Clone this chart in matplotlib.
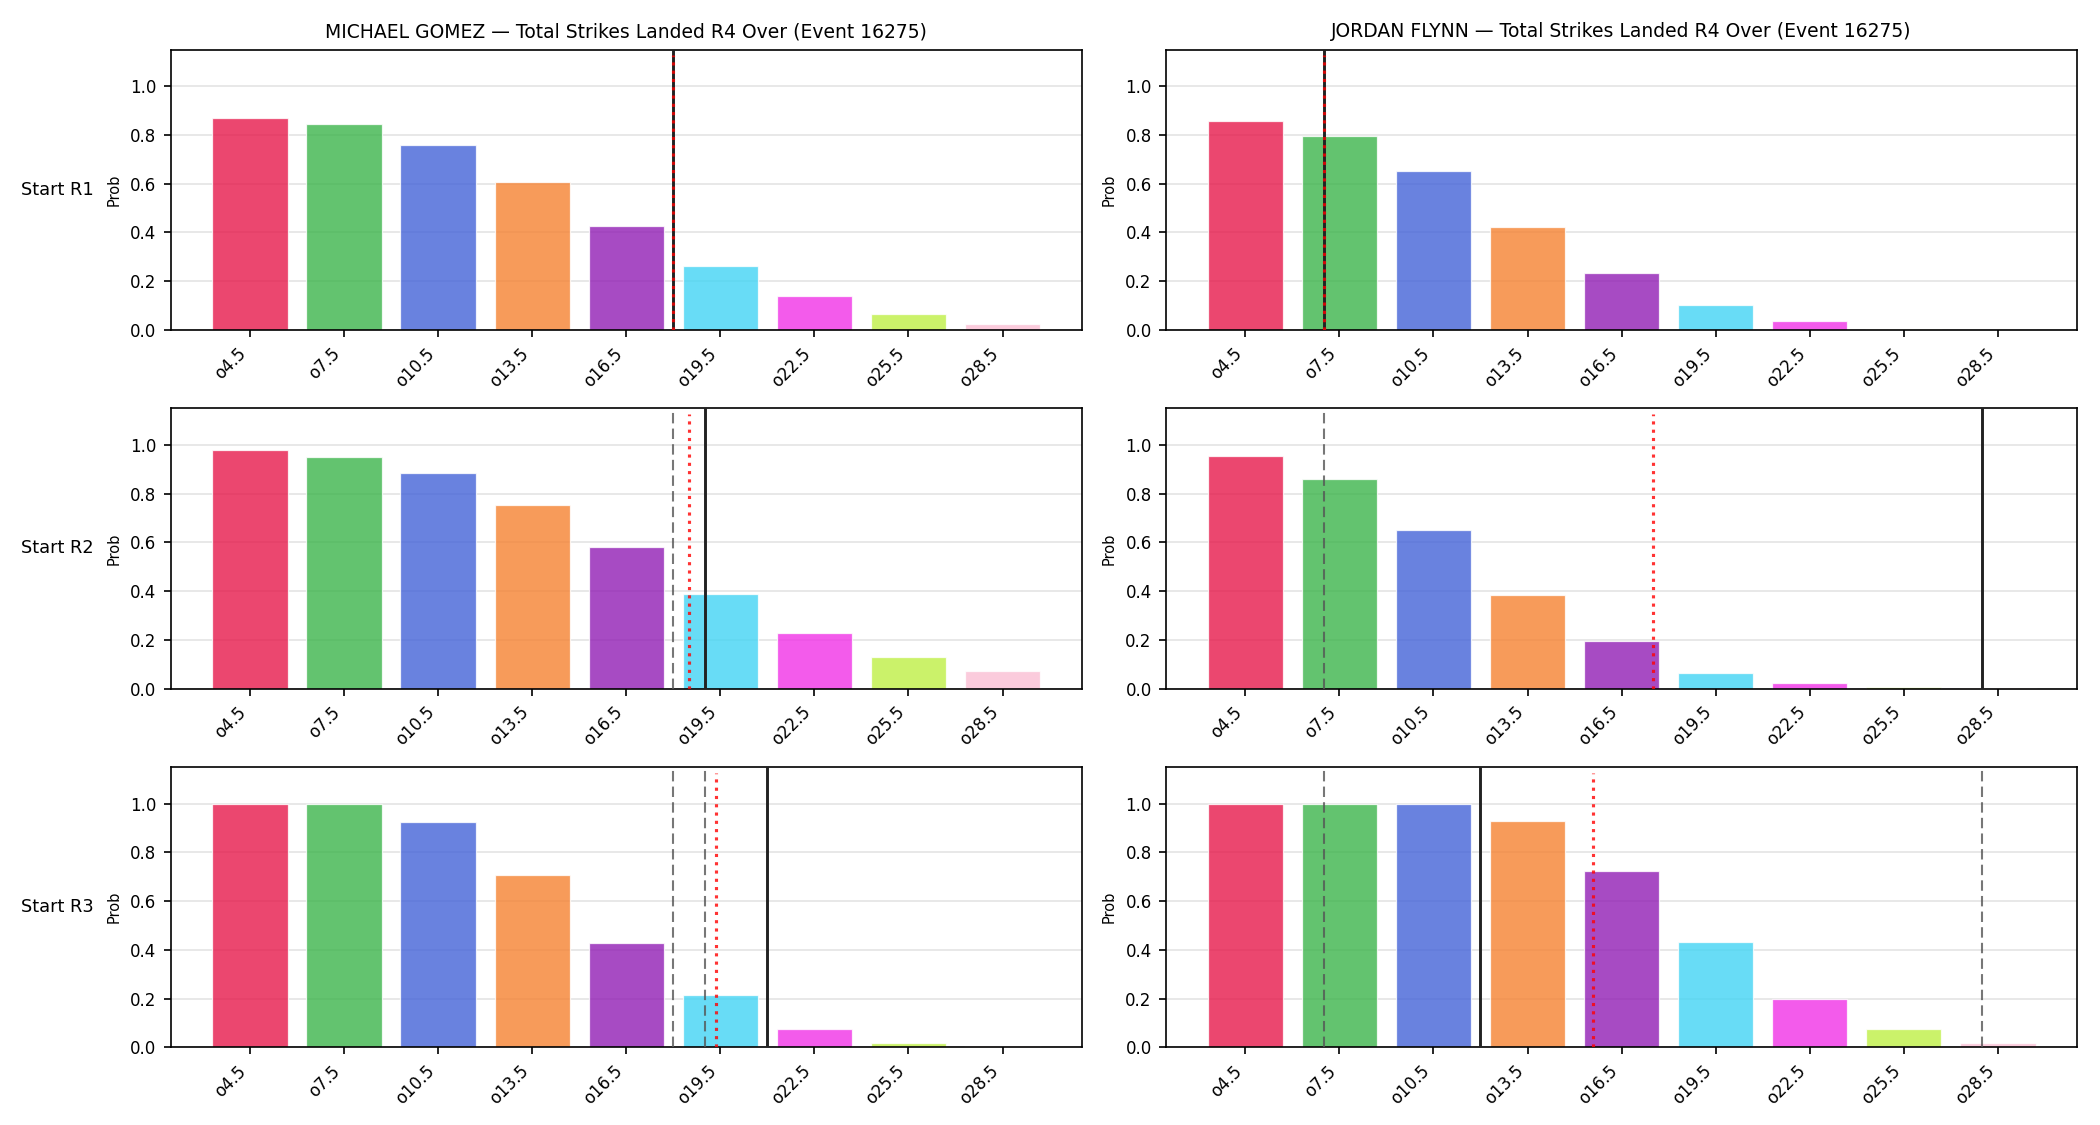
import matplotlib.pyplot as plt
import numpy as np

fighters = ["MICHAEL GOMEZ", "JORDAN FLYNN"]
event_id = 16275
rows = ["Start R1", "Start R2", "Start R3"]

lines = [4.5, 7.5, 10.5, 13.5, 16.5, 19.5, 22.5, 25.5, 28.5]
labels = ["o" + str(l) for l in lines]

bar_colors = ['#e6194b', '#3cb44b', '#4363d8', '#f58231', '#911eb4',
              '#42d4f4', '#f032e6', '#bfef45', '#fabed4']

gomez_probs = [
    [0.867, 0.845, 0.757, 0.608, 0.425, 0.262, 0.138, 0.066, 0.022],
    [0.978, 0.951, 0.885, 0.754, 0.579, 0.390, 0.228, 0.131, 0.071],
    [0.998, 0.997, 0.923, 0.709, 0.429, 0.214, 0.077, 0.018, 0.004],
]
flynn_probs = [
    [0.856, 0.796, 0.650, 0.423, 0.235, 0.103, 0.035, 0.003, 0.001],
    [0.956, 0.860, 0.652, 0.383, 0.195, 0.066, 0.023, 0.006, 0.003],
    [0.999, 0.998, 0.997, 0.927, 0.725, 0.434, 0.198, 0.077, 0.018],
]

# reference markers, in strikes landed
gomez_solid = [18.0, 19.0, 21.0]
gomez_mean = [18.0, 18.5, 19.35]
gomez_dashed = [[], [18.0], [18.0, 19.0]]

flynn_solid = [7.0, 28.0, 12.0]
flynn_mean = [7.0, 17.5, 15.6]
flynn_dashed = [[], [7.0], [7.0, 28.0]]

probs = [gomez_probs, flynn_probs]
solids = [gomez_solid, flynn_solid]
means = [gomez_mean, flynn_mean]
dashes = [gomez_dashed, flynn_dashed]


def to_pos(v):
    return np.interp(v, lines, np.arange(len(lines)))


fig, axes = plt.subplots(3, 2, figsize=(14, 7.5))
plt.subplots_adjust(left=0.0814, right=0.989, top=0.956, bottom=0.069,
                    wspace=0.093, hspace=0.28)

x = np.arange(len(lines))
for c in range(2):
    for r in range(3):
        ax = axes[r, c]
        ax.bar(x, probs[c][r], color=bar_colors, alpha=0.8,
               edgecolor='white', linewidth=0.6, zorder=2)
        for d in dashes[c][r]:
            ax.axvline(to_pos(d), color='#555555', linestyle=(0, (5, 2.5)),
                       linewidth=1.0, alpha=0.8, zorder=3)
        ax.axvline(to_pos(solids[c][r]), color='#222222', linewidth=1.4, zorder=3)
        ax.axvline(to_pos(means[c][r]), ymax=0.98, color='red', linestyle=':',
                   linewidth=1.5, alpha=0.8, zorder=4)
        ax.set_ylim(0, 1.15)
        ax.set_xticks(x)
        ax.set_xticklabels(labels, rotation=45, ha='right', fontsize=8)
        ax.tick_params(axis='y', labelsize=8)
        ax.set_yticks([0, 0.2, 0.4, 0.6, 0.8, 1.0])
        ax.grid(axis='y', color='#dddddd', alpha=0.8, zorder=0)
        ax.set_axisbelow(True)
        ax.set_ylabel("Prob", fontsize=7)
        if r == 0:
            ax.set_title(f"{fighters[c]} — Total Strikes Landed R4 Over (Event {event_id})",
                         fontsize=9)
        if c == 0:
            ax.text(-0.085, 0.5, rows[r], transform=ax.transAxes,
                    ha='right', va='center', fontsize=8.5)

plt.savefig("out.png", dpi=150)
plt.close()
